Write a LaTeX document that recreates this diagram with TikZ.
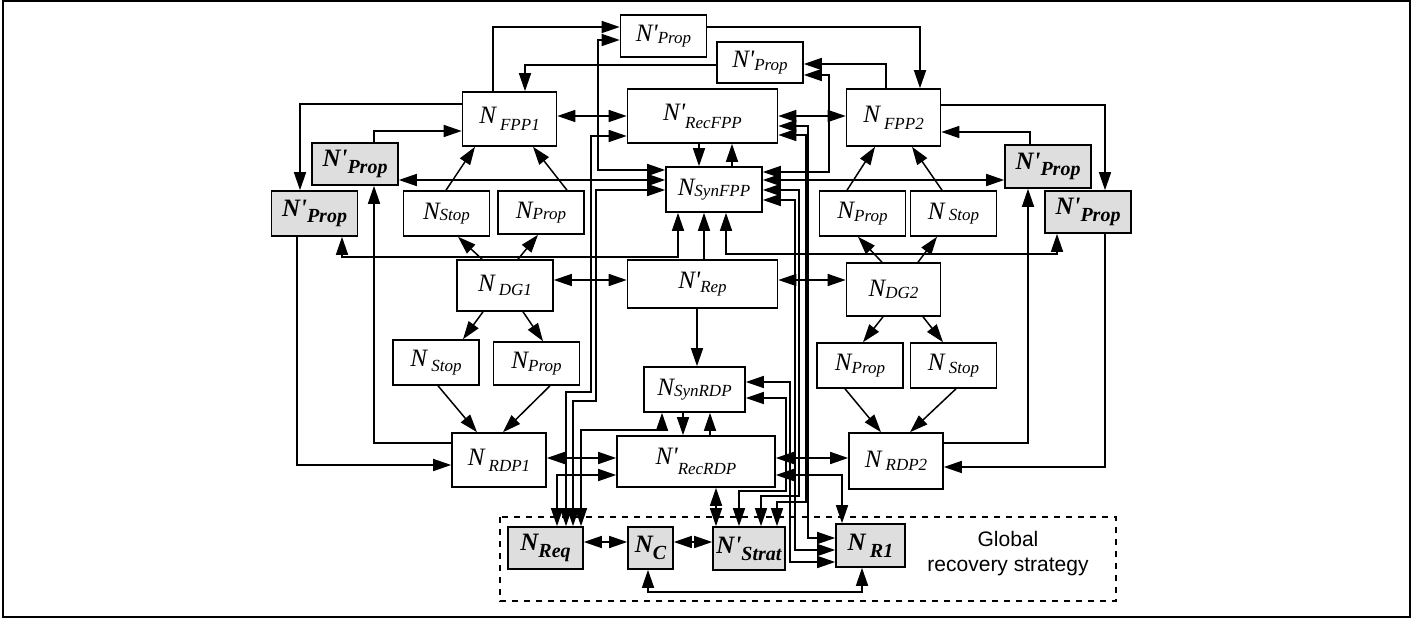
\documentclass[tikz,border=0pt]{standalone}
\usepackage{fontspec}
\setmainfont{Liberation Serif}
\newfontfamily\helv{Liberation Sans}
\usetikzlibrary{arrows.meta}
\newcommand{\nwhite}[3][0.45ex]{\textit{N#2\raisebox{-#1}{\fontsize{8.5}{9}\selectfont #3}}}
\newcommand{\ngrey}[3][0.6ex]{\textbf{\textit{N#2\raisebox{-#1}{\fontsize{10}{11}\selectfont #3}}}}

\begin{document}
\begin{tikzpicture}[x=0.5pt, y=-0.5pt,
  wbox/.style={draw, line width=0.8pt, fill=white, inner sep=0pt,
    font=\fontsize{12.5}{14}\selectfont},
  small/.style={wbox, minimum width=43pt, minimum height=22pt},
  mid/.style={wbox, minimum width=47pt, minimum height=27pt},
  wide/.style={wbox, minimum width=75pt, minimum height=26pt},
  grey/.style={small, fill=black!13},
  ln/.style={line width=0.75pt},
  arr/.style={ln, -{Triangle[length=9pt, width=6pt]}},
  darr/.style={ln, {Triangle[length=9pt, width=6pt]}-{Triangle[length=9pt, width=6pt]}},
]
\useasboundingbox (0,0) rectangle (1413,620);
\draw[line width=0.8pt] (3,1) rectangle (1410,617);
\draw[dashed, line width=0.6pt] (500,517) rectangle (1116,601);

% top row
\node[small, minimum height=21pt] (npA) at (663.5,36) {\nwhite[0.2ex]{\textquotesingle}{Prop}};
\node[small, minimum height=20.5pt] (npB) at (760,62.5) {\nwhite[0.2ex]{\textquotesingle}{Prop}};
\node[mid] (fpp1) at (509.5,119) {\nwhite[0.6ex]{\,}{FPP1}};
\node[wide, minimum height=27pt] (recfpp) at (702.5,116) {\nwhite[0.7ex]{\textquotesingle}{RecFPP}};
\node[mid, minimum height=28.5pt] (fpp2) at (893.5,117.5) {\nwhite[0.6ex]{\,}{FPP2}};

% grey propagation nodes
\node[grey, minimum height=21pt] (gpL1) at (355,164) {\ngrey{\textquotesingle}{Prop}};
\node[grey, minimum height=22.5pt] (gpL2) at (314.5,213.5) {\ngrey{\textquotesingle}{Prop}};
\node[grey, minimum height=21.5pt] (gpR1) at (1048,166.5) {\ngrey{\textquotesingle}{Prop}};
\node[grey, minimum height=21pt] (gpR2) at (1088,212) {\ngrey{\textquotesingle}{Prop}};

% upper stop / prop
\node[small, minimum height=22.5pt] (stopA) at (446.5,213.5) {\nwhite[0.1ex]{}{Stop}};
\node[small, minimum height=21.5pt] (propA) at (541,212.5) {\nwhite[0.1ex]{}{Prop}};
\node[wbox, minimum width=48pt, minimum height=22.5pt] (synfpp) at (714,189.5) {\nwhite[0.1ex]{}{SynFPP}};
\node[small, minimum height=22.5pt] (propB) at (862.5,213.5) {\nwhite[0.2ex]{}{Prop}};
\node[small, minimum height=22.5pt] (stopB) at (953.5,213.5) {\nwhite[0.1ex]{\,}{Stop}};

% middle row
\node[mid, minimum width=48pt, minimum height=25.5pt] (dg1) at (505,285.5) {\nwhite[0.4ex]{\,}{DG1}};
\node[wide, minimum height=24pt] (rep) at (702.5,284) {\nwhite[0.4ex]{\textquotesingle}{Rep}};
\node[mid, minimum height=26.5pt] (dg2) at (893.5,289.5) {\nwhite[0.2ex]{}{DG2}};

% lower stop / prop
\node[small, minimum height=22.5pt] (stopC) at (436,362.5) {\nwhite[0.4ex]{\,}{Stop}};
\node[small, minimum height=21.5pt] (propC) at (536.5,363.5) {\nwhite[0.2ex]{}{Prop}};
\node[wbox, minimum width=50.5pt, minimum height=22.5pt] (synrdp) at (694.5,389.5) {\nwhite[0.1ex]{}{SynRDP}};
\node[small, minimum height=22.5pt] (propD) at (860,365.5) {\nwhite[0.3ex]{}{Prop}};
\node[small, minimum height=22.5pt] (stopD) at (953.5,365.5) {\nwhite[0.3ex]{\,}{Stop}};

% bottom row
\node[mid] (rdp1) at (499,460) {\nwhite[0.5ex]{\,}{RDP1}};
\node[wide, minimum width=79pt, minimum height=25.5pt] (recrdp) at (696,461.5) {\nwhite[0.9ex]{\textquotesingle}{RecRDP}};
\node[mid, minimum height=28pt] (rdp2) at (896,461) {\nwhite[0.3ex]{\,}{RDP2}};

% global recovery strategy
\node[grey, minimum width=37.5pt, minimum height=21pt] (req) at (545.5,548) {\ngrey{}{Req}};
\node[grey, minimum width=22.5pt, minimum height=21pt] (nc) at (650.5,548) {\ngrey{}{C}};
\node[grey, minimum width=36pt, minimum height=21.5pt] (strat) at (749,548.5) {\ngrey{\textquotesingle}{Strat}};
\node[grey, minimum width=34.5pt, minimum height=21.5pt] (r1) at (870.5,545.5) {\ngrey{\,}{R1}};
\node[font=\helv\fontsize{10.5}{12.5}\selectfont, align=center] (glob) at (1008,554)
  {Global\\recovery strategy};

% top connections
\draw[arr] (fpp1.north -| 493,0) |- (npA.west |- 0,27);
\draw[darr] (npA.west |- 0,40) -| (598,170) -- (synfpp.west |- 0,170);
\draw[arr] (npA.east |- 0,27) -| (fpp2.north -| 920,0);
\draw[arr] (npB.west |- 0,65) -| (fpp1.north -| 525,0);
\draw[arr] (fpp2.north -| 886,0) |- (npB.east |- 0,64);
\draw[darr] (npB.east |- 0,75) -| (829,172) -- (synfpp.east |- 0,172);
\draw[darr] (fpp1.east |- 0,116) -- (recfpp.west |- 0,116);
\draw[darr] (recfpp.east |- 0,116) -- (fpp2.west |- 0,116);
\draw[arr] (recfpp.south -| 699,0) -- (synfpp.north -| 699,0);
\draw[arr] (synfpp.north -| 732,0) -- (recfpp.south -| 732,0);

% grey propagation links
\draw[arr] (fpp1.west |- 0,104) -| (gpL2.north -| 300,0);
\draw[arr] (gpL1.north -| 374,0) |- (fpp1.west |- 0,131);
\draw[arr] (fpp2.east |- 0,105) -| (gpR2.north -| 1105,0);
\draw[arr] (gpR1.north -| 1030,0) |- (fpp2.east |- 0,132);
\draw[darr] (gpL1.east |- 0,180) -- (synfpp.west |- 0,180);
\draw[darr] (synfpp.east |- 0,180) -- (gpR1.west |- 0,180);
\draw[darr] (gpL2.south -| 342,0) |- (678,257) -- (synfpp.south -| 678,0);
\draw[darr] (gpR2.south -| 1057,0) |- (726,254) -- (synfpp.south -| 726,0);
\draw[arr] (gpL2.south -| 297,0) |- (rdp1.west |- 0,465);
\draw[arr] (rdp1.west |- 0,443) -| (gpL1.south -| 374,0);
\draw[arr] (rdp2.east |- 0,443) -| (gpR1.south -| 1028,0);
\draw[arr] (gpR2.south -| 1105,0) |- (rdp2.east |- 0,467);

% stop / prop fan
\draw[arr] (stopA.north -| 446,0) -- (fpp1.south -| 475,0);
\draw[arr] (propA.north -| 567,0) -- (fpp1.south -| 533,0);
\draw[arr] (propB.north -| 847,0) -- (fpp2.south -| 875,0);
\draw[arr] (stopB.north -| 942,0) -- (fpp2.south -| 912,0);
\draw[arr] (dg1.north -| 482,0) -- (stopA.south -| 458,0);
\draw[arr] (dg1.north -| 518,0) -- (propA.south -| 538,0);
\draw[arr] (dg2.north -| 882,0) -- (propB.south -| 858,0);
\draw[arr] (dg2.north -| 918,0) -- (stopB.south -| 937,0);
\draw[arr] (dg1.south -| 483,0) -- (stopC.north -| 463,0);
\draw[arr] (dg1.south -| 523,0) -- (propC.north -| 543,0);
\draw[arr] (dg2.south -| 883,0) -- (propD.north -| 863,0);
\draw[arr] (dg2.south -| 923,0) -- (stopD.north -| 943,0);
\draw[arr] (stopC.south -| 438,0) -- (rdp1.north -| 477,0);
\draw[arr] (propC.south -| 550,0) -- (rdp1.north -| 503,0);
\draw[arr] (propD.south -| 845,0) -- (rdp2.north -| 881,0);
\draw[arr] (stopD.south -| 956,0) -- (rdp2.north -| 910,0);

% middle links
\draw[darr] (dg1.east |- 0,280) -- (rep.west |- 0,280);
\draw[darr] (rep.east |- 0,280) -- (dg2.west |- 0,280);
\draw[arr] (rep.north -| 704,0) -- (synfpp.south -| 704,0);
\draw[arr] (rep.south -| 697,0) -- (synrdp.north -| 697,0);
\draw[arr] (synrdp.south -| 683,0) -- (recrdp.north -| 683,0);
\draw[arr] (recrdp.north -| 710,0) -- (synrdp.south -| 710,0);
\draw[darr] (rdp1.east |- 0,458) -- (recrdp.west |- 0,458);
\draw[darr] (recrdp.east |- 0,458) -- (rdp2.west |- 0,458);

% links to N_Req
\draw[darr] (recfpp.west |- 0,136) -| (591,392) -| (req.north -| 566,0);
\draw[darr] (synfpp.west |- 0,190) -| (596,401) -| (req.north -| 573,0);
\draw[darr] (synrdp.south -| 662,0) |- (581,430) -- (req.north -| 581,0);
\draw[darr] (recrdp.west |- 0,475) -| (req.north -| 557,0);

% links to N'_Strat and N_R1
\draw[darr] (recrdp.south -| 716,0) -- (strat.north -| 716,0);
\draw[darr] (recrdp.east |- 0,475) -| (r1.north -| 842,0);
\draw[darr] (synrdp.east |- 0,398) -| (786,491) -| (strat.north -| 739,0);
\draw[darr] (synfpp.east |- 0,190) -| (799,496) -| (strat.north -| 761,0);
\draw[darr] (recfpp.east |- 0,135) -| (806,502) -| (strat.north -| 777,0);
\draw[darr] (recfpp.east |- 0,126) -| (808,538) -- (r1.west |- 0,538);
\draw[darr] (synfpp.east |- 0,200) -| (795,550) -- (r1.west |- 0,550);
\draw[darr] (synrdp.east |- 0,382) -| (790,562) -- (r1.west |- 0,562);

% inside the strategy box
\draw[darr] (req.east |- 0,542) -- (nc.west |- 0,542);
\draw[darr] (nc.east |- 0,542) -- (strat.west |- 0,542);
\draw[darr] (nc.south -| 648,0) |- (862,592) -- (r1.south -| 862,0);
\end{tikzpicture}
\end{document}
